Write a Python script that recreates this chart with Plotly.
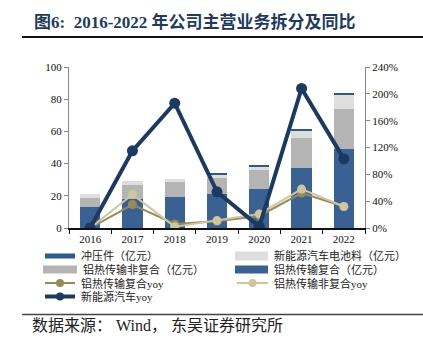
import plotly.graph_objects as go

years = ['2016', '2017', '2018', '2019', '2020', '2021', '2022']
composite = [13.0, 18.0, 19.4, 21.0, 24.0, 37.5, 49.2]      # 铝热传输复合（亿元）
noncomposite = [5.8, 8.7, 9.0, 9.9, 12.0, 18.4, 24.8]     # 铝热传输非复合（亿元）
battery = [2.1, 2.5, 2.0, 2.2, 2.1, 4.5, 9.0]             # 新能源汽车电池料（亿元）
stamping = [0.0, 0.0, 0.0, 0.5, 0.5, 0.7, 0.8]            # 冲压件（亿元）
comp_yoy = [0, 35, 6, 10, 18, 52, 32]                      # %
noncomp_yoy = [0, 50, 2, 11, 21, 58, 32]                   # %
nev_yoy = [0, 115, 186, 54, 2, 208, 103]                   # %

C_BLUE = '#3A6194'
C_GREY = '#B4B4B4'
C_LIGHT = '#DEDEDE'
C_STAMP = '#2A5A8E'
C_NAVY = '#1B3A63'
C_OLIVE = '#978A57'
C_TAN = '#CFC69E'

SERIF = 'Liberation Serif, Times New Roman, Noto Sans CJK SC'
CJK = 'Liberation Serif, Noto Sans CJK SC'

W, H = 423, 352
ML, MR, MT, MB = 69, 58, 67, 124
PW, PH = W - ML - MR, H - MT - MB

def px(x):
    return (x - ML) / PW

def py(y):
    return (H - MB - y) / PH

fig = go.Figure()
bw = 0.48
fig.add_bar(x=years, y=composite, name='铝热传输复合（亿元）', marker_color=C_BLUE, width=bw, marker_line_width=0)
fig.add_bar(x=years, y=noncomposite, name='铝热传输非复合（亿元）', marker_color=C_GREY, width=bw, marker_line_width=0)
fig.add_bar(x=years, y=battery, name='新能源汽车电池料（亿元）', marker_color=C_LIGHT, width=bw, marker_line_width=0)
fig.add_bar(x=years, y=stamping, name='冲压件（亿元）', marker_color=C_STAMP, width=bw, marker_line_width=0)

fig.add_scatter(x=years, y=[v / 100 for v in comp_yoy], yaxis='y2', mode='lines+markers',
                line=dict(color=C_OLIVE, width=2), marker=dict(size=9, color=C_OLIVE), name='铝热传输复合yoy')
fig.add_scatter(x=years, y=[v / 100 for v in noncomp_yoy], yaxis='y2', mode='lines+markers',
                line=dict(color=C_TAN, width=2), marker=dict(size=9, color=C_TAN), name='铝热传输非复合yoy')
fig.add_scatter(x=years, y=[v / 100 for v in nev_yoy], yaxis='y2', mode='lines+markers',
                line=dict(color=C_NAVY, width=4), marker=dict(size=11, color=C_NAVY), name='新能源汽车yoy')

shapes = []
annotations = []

# title and rules
annotations.append(dict(text='<b>图6:  2016-2022 年公司主营业务拆分及同比</b>', x=px(32), y=py(21.5),
                        xref='paper', yref='paper', xanchor='left', yanchor='middle', showarrow=False,
                        font=dict(family=CJK, size=17, color='#1F3A60')))
shapes.append(dict(type='line', xref='paper', yref='paper', x0=px(22), x1=px(423), y0=py(37), y1=py(37),
                   line=dict(color='#111111', width=2)))
shapes.append(dict(type='line', xref='paper', yref='paper', x0=px(22), x1=px(423), y0=py(314.5), y1=py(314.5),
                   line=dict(color='#444444', width=1.5)))
annotations.append(dict(text='数据来源： Wind， 东吴证券研究所', x=px(30), y=py(325),
                        xref='paper', yref='paper', xanchor='left', yanchor='middle', showarrow=False,
                        font=dict(family=CJK, size=16, color='#222222')))

# custom legend
legend_items = [
    ('rect', C_STAMP, 45, 75, 256, 5, '冲压件（亿元）'),
    ('rect', C_LIGHT, 235, 268, 256, 9, '新能源汽车电池料（亿元）'),
    ('rect', C_GREY, 43, 77, 269.5, 8, '铝热传输非复合（亿元）'),
    ('rect', C_BLUE, 235, 268, 269.5, 8, '铝热传输复合（亿元）'),
    ('line', C_OLIVE, 45, 75, 283, 2, '铝热传输复合yoy'),
    ('line', C_TAN, 237, 268, 283, 2, '铝热传输非复合yoy'),
    ('line', C_NAVY, 45, 75, 296.5, 4, '新能源汽车yoy'),
]
for kind, col, x0, x1, yc, th, label in legend_items:
    if kind == 'rect':
        shapes.append(dict(type='rect', xref='paper', yref='paper', x0=px(x0), x1=px(x1),
                           y0=py(yc + th / 2), y1=py(yc - th / 2), fillcolor=col, line=dict(width=0)))
    else:
        shapes.append(dict(type='line', xref='paper', yref='paper', x0=px(x0), x1=px(x1),
                           y0=py(yc), y1=py(yc), line=dict(color=col, width=th)))
        r = 4
        xc = (x0 + x1) / 2
        shapes.append(dict(type='circle', xref='paper', yref='paper', x0=px(xc - r), x1=px(xc + r),
                           y0=py(yc + r), y1=py(yc - r), fillcolor=col, line=dict(width=0)))
    annotations.append(dict(text=label, x=px(x1 + 4), y=py(yc), xref='paper', yref='paper',
                            xanchor='left', yanchor='middle', showarrow=False,
                            font=dict(family=CJK, size=11, color='#222222')))

fig.update_layout(
    width=W, height=H,
    margin=dict(l=ML, r=MR, t=MT, b=MB),
    paper_bgcolor='white', plot_bgcolor='white',
    barmode='stack', showlegend=False, bargap=0.5,
    shapes=shapes, annotations=annotations,
    xaxis=dict(type='category', range=[-0.5, 6.5], showgrid=False, showline=True, linecolor='#111111',
               linewidth=1.5, ticks='outside', tickson='boundaries', ticklen=4, tickcolor='#111111',
               tickfont=dict(family=SERIF, size=11, color='#111111')),
    yaxis=dict(range=[0, 100], dtick=20, showgrid=False, zeroline=False, showline=True, linecolor='#888888',
               linewidth=1, ticks='outside', ticklen=4, tickcolor='#888888',
               tickfont=dict(family=SERIF, size=11, color='#111111')),
    yaxis2=dict(range=[0, 2.4], dtick=0.4, tickformat='.0%', overlaying='y', side='right', showgrid=False,
                zeroline=False, showline=True, linecolor='#888888', linewidth=1, ticks='outside', ticklen=4,
                tickcolor='#888888', tickfont=dict(family=SERIF, size=11, color='#111111')),
)

fig.write_html('out.html')
